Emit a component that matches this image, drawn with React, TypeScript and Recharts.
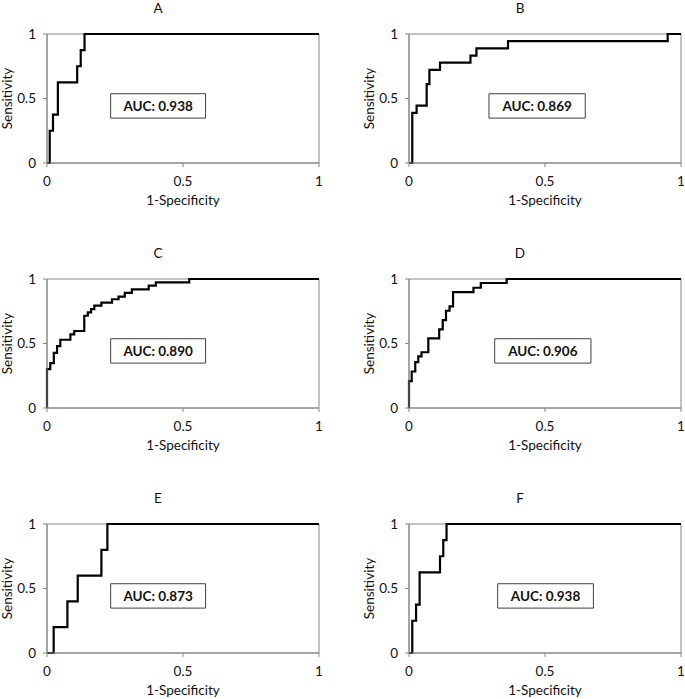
import { LineChart, Line, XAxis, YAxis, ReferenceArea } from "recharts";

// ROC corner points (x = 1-specificity, y = sensitivity)
const fprA = [0, 0.01, 0.01, 0.022, 0.022, 0.04, 0.04, 0.111, 0.111, 0.124, 0.124, 0.138, 0.138, 1];
const tprA = [0, 0, 0.25, 0.25, 0.375, 0.375, 0.625, 0.625, 0.75, 0.75, 0.875, 0.875, 1, 1];

const fprB = [0, 0.012, 0.012, 0.028, 0.028, 0.065, 0.065, 0.075, 0.075, 0.114, 0.114, 0.226, 0.226, 0.248, 0.248, 0.364, 0.364, 0.951, 0.951, 1];
const tprB = [0, 0, 0.389, 0.389, 0.444, 0.444, 0.611, 0.611, 0.722, 0.722, 0.778, 0.778, 0.833, 0.833, 0.889, 0.889, 0.944, 0.944, 1, 1];

const fprC = [0, 0, 0.012, 0.012, 0.025, 0.025, 0.037, 0.037, 0.049, 0.049, 0.086, 0.086, 0.1, 0.1, 0.137, 0.137, 0.15, 0.15, 0.162, 0.162, 0.174, 0.174, 0.2, 0.2, 0.239, 0.239, 0.263, 0.263, 0.286, 0.286, 0.312, 0.312, 0.374, 0.374, 0.4, 0.4, 0.523, 0.523, 1];
const tprC = [0, 0.301, 0.301, 0.348, 0.348, 0.427, 0.427, 0.479, 0.479, 0.529, 0.529, 0.571, 0.571, 0.597, 0.597, 0.715, 0.715, 0.741, 0.741, 0.767, 0.767, 0.793, 0.793, 0.817, 0.817, 0.843, 0.843, 0.864, 0.864, 0.893, 0.893, 0.919, 0.919, 0.948, 0.948, 0.974, 0.974, 1, 1];

const fprD = [0, 0, 0.01, 0.01, 0.023, 0.023, 0.034, 0.034, 0.046, 0.046, 0.071, 0.071, 0.111, 0.111, 0.124, 0.124, 0.136, 0.136, 0.149, 0.149, 0.162, 0.162, 0.237, 0.237, 0.264, 0.264, 0.359, 0.359, 1];
const tprD = [0, 0.209, 0.209, 0.283, 0.283, 0.356, 0.356, 0.4, 0.4, 0.432, 0.432, 0.539, 0.539, 0.61, 0.61, 0.681, 0.681, 0.754, 0.754, 0.788, 0.788, 0.898, 0.898, 0.932, 0.932, 0.969, 0.969, 1, 1];

const fprE = [0, 0.0245, 0.0245, 0.075, 0.075, 0.113, 0.113, 0.2, 0.2, 0.222, 0.222, 1];
const tprE = [0, 0, 0.2, 0.2, 0.4, 0.4, 0.6, 0.6, 0.8, 0.8, 1, 1];

const fprF = [0, 0.012, 0.012, 0.026, 0.026, 0.039, 0.039, 0.114, 0.114, 0.126, 0.126, 0.138, 0.138, 1];
const tprF = [0, 0, 0.25, 0.25, 0.375, 0.375, 0.625, 0.625, 0.75, 0.75, 0.875, 0.875, 1, 1];

const titles = ["A", "B", "C", "D", "E", "F"];
const aucLabels = ["AUC: 0.938", "AUC: 0.869", "AUC: 0.890", "AUC: 0.906", "AUC: 0.873", "AUC: 0.938"];
const axisTicks = [0, 0.5, 1];

const curves = [
  [fprA, tprA],
  [fprB, tprB],
  [fprC, tprC],
  [fprD, tprD],
  [fprE, tprE],
  [fprF, tprF],
];

// layout only
const spots = [
  { left: 0, top: 0 },
  { left: 362, top: 0 },
  { left: 0, top: 245 },
  { left: 362, top: 245 },
  { left: 0, top: 490 },
  { left: 362, top: 490 },
];
const boxX = [
  [0.234, 0.583],
  [0.294, 0.648],
  [0.234, 0.583],
  [0.315, 0.669],
  [0.234, 0.583],
  [0.326, 0.678],
];

const AXIS = "#868686";
const TEXT = "#111";
const FS = 13.5;

const RocPanel = ({ i }: { i: number }) => {
  const [xs, ys] = curves[i];
  const rows = xs.map((x, k) => ({ x, y: ys[k] }));
  return (
    <div style={{ position: "absolute", left: spots[i].left, top: spots[i].top, width: 340, height: 215 }}>
      <div
        style={{
          position: "absolute",
          left: 138,
          top: 0,
          width: 40,
          textAlign: "center",
          fontSize: FS,
          lineHeight: "16px",
          color: TEXT,
        }}
      >
        {titles[i]}
      </div>
      <LineChart width={340} height={215} data={rows} margin={{ top: 34, right: 21, bottom: 2, left: 0 }}>
        <XAxis
          dataKey="x"
          type="number"
          domain={[0, 1]}
          ticks={axisTicks}
          height={50}
          stroke={AXIS}
          tickSize={4}
          tickMargin={9}
          tick={{ fill: TEXT, fontSize: FS }}
          label={{ value: "1-Specificity", position: "insideBottom", offset: 8, fill: TEXT, fontSize: FS }}
        />
        <YAxis
          type="number"
          domain={[0, 1]}
          ticks={axisTicks}
          width={47}
          stroke={AXIS}
          tickSize={4}
          tickMargin={7}
          tick={{ fill: TEXT, fontSize: FS }}
          label={{
            value: "Sensitivity",
            angle: -90,
            position: "insideLeft",
            offset: 7,
            fill: TEXT,
            fontSize: FS,
            style: { textAnchor: "middle" },
          }}
        />
        <ReferenceArea x1={0} x2={1} y1={0} y2={1} fill="none" fillOpacity={0} stroke={AXIS} strokeWidth={1} />
        <ReferenceArea
          x1={boxX[i][0]}
          x2={boxX[i][1]}
          y1={0.348}
          y2={0.537}
          fill="#fff"
          fillOpacity={1}
          stroke="#404040"
          strokeWidth={1}
          label={{ value: aucLabels[i], position: "center", fill: "#111", fontSize: FS, fontWeight: 700 }}
        />
        <Line
          dataKey="y"
          type="linear"
          stroke="#000"
          strokeWidth={2.2}
          dot={false}
          activeDot={false}
          isAnimationActive={false}
        />
      </LineChart>
    </div>
  );
};

export default function App() {
  return (
    <div
      style={{
        position: "absolute",
        left: 0,
        top: 0,
        width: 685,
        height: 699,
        overflow: "hidden",
        background: "#fff",
        fontFamily: "Lato, 'Open Sans', sans-serif",
      }}
    >
      {titles.map((t, i) => (
        <RocPanel key={t} i={i} />
      ))}
    </div>
  );
}
